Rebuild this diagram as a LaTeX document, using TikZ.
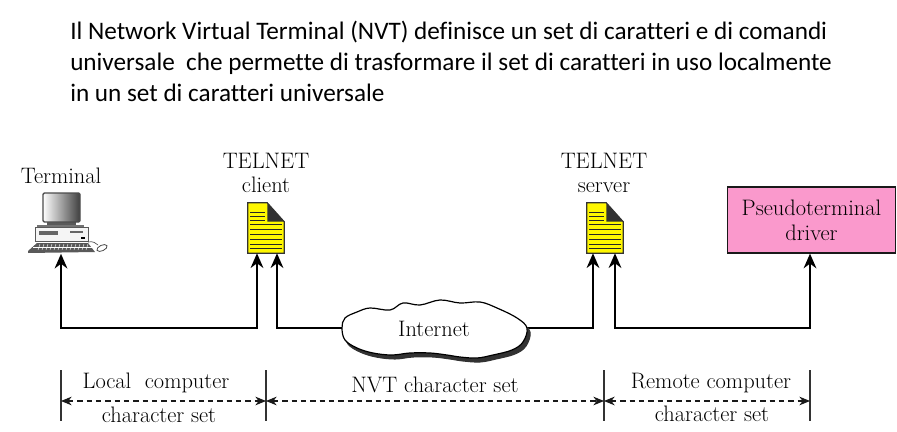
\documentclass[tikz,border=0pt]{standalone}
\usepackage{fontspec}
\usepackage{tikz}
\usetikzlibrary{arrows.meta, calc, positioning}
\newfontfamily\headfont[Ligatures=NoCommon]{Carlito}
\definecolor{docYellow}{RGB}{255,247,0}
\definecolor{driverPink}{RGB}{250,153,204}
\definecolor{foldGray}{RGB}{50,50,50}
\tikzset{%
>={Stealth[width=9.5pt,length=11pt,inset=3.5pt]},
% Specifications for style of nodes:
base/.style = {inner sep=0, font=\fontsize{16.8}{18.5}\selectfont, text=black, align=center},
heading/.style = {inner sep=0, anchor=west, font=\headfont\fontsize{18.9}{23.3}\selectfont, align=left},
driver/.style = {base, draw=black!90, line width=1.4pt, fill=driverPink, minimum width=126pt, minimum height=49pt},
doc/.style = {inner sep=0, minimum width=27pt, minimum height=37.5pt},
device/.style = {inner sep=0, minimum width=67.5pt, minimum height=47.25pt},
link/.style = {line width=1.8pt, black},
charspan/.style = {dash pattern=on 4pt off 3pt, line width=0.8pt, black!90, <->, >={Stealth[width=6.5pt,length=8pt,inset=2.5pt]}},
bound/.style = {line width=1pt, black!80},
}
% a sheet with a folded corner, drawn on top of the node of that name
\newcommand{\sheet}[1]{%
  \fill[docYellow, draw=black!80, line width=0.8pt] (#1.south west) -- (#1.north west) -- ($(#1.north east)+(-17,0)$) -- ($(#1.north east)+(0,19)$) -- (#1.south east) -- cycle;
  \fill[foldGray] ($(#1.north east)+(-17,0)$) -- ($(#1.north east)+(0,19)$) -- ($(#1.north east)+(-17,19)$) -- cycle;
  \foreach \y/\l in {10/15, 14/15, 18/15, 22/32, 27/32, 32/32, 37/32, 42/32, 46/32} {
    \draw[black!85, line width=0.4pt] ($(#1.north west)+(2.5,\y)$) -- ++(\l,0);
  }
}
\begin{document}
\begin{tikzpicture}[x=0.75pt, y=-0.75pt]
    \useasboundingbox (0,0) rectangle (897,432);
    % Heading
    \node (heading) [heading] at (70,61.5) {Il Network Virtual Terminal (NVT) definisce un set di caratteri e di comandi\\
        universale\ \ che permette di trasformare il set di caratteri in uso localmente\\
        in un set di caratteri universale};

    % Specification of nodes (position, etc.)
    \node (terminal) [device] at (61,222) {};
    \node (terminalLabel) [base] at (61,176) {Terminal};
    \node (clientDoc) [doc] at (266,228) {};
    \node (clientLabel) [base] at (266,173) {TELNET\\client};
    \node (serverDoc) [doc] at (605,228) {};
    \node (serverLabel) [base] at (604,173) {TELNET\\server};
    \node (driver) [driver] at (811.5,220) {Pseudoterminal\\driver};

    % Terminal icon
    \fill[black!65] (47,222) rectangle (76,226);
    \fill[black!55] (37,225) rectangle (84,228);
    \shade[left color=white, right color=black!75, draw=black!70, line width=1pt, rounded corners=1pt] (43,193) rectangle (80,222);
    \draw[black!65, fill=black!4, line width=0.7pt] (35,227) rectangle (88,241);
    \fill[black!60] (39,231) rectangle (58,235);
    \fill[black!60] (70,231) rectangle (83,233);
    \fill[black] (81,237) rectangle (85,239);
    \fill[black!65] (37,243) -- (88,243) -- (95,252) -- (28,253) -- (28,251) -- cycle;
    \foreach \x in {40,44,...,88} {
        \draw[white, line width=0.3pt] (\x,244) -- (\x-2,250);
    }
    \draw[white, line width=0.3pt] (33,247) -- (92,247);
    \draw[black!70, line width=0.5pt] (88,242) .. controls (93,241) and (96,243) .. (98,245);
    \draw[black!70, fill=white, line width=0.6pt, rotate around={25:(102,248)}] (102,248) ellipse (5.5 and 2.8);

    % Sheets
    \sheet{clientDoc}
    \sheet{serverDoc}

    % Connectors
    \draw [<->, link] (terminal.south) -- ++(0,74.5) -| ($(clientDoc.south)+(-9,0)$);
    \coordinate (cloudLeft) at (342,328);
    \coordinate (cloudRight) at (527,328);
    \draw [<-, link] ($(clientDoc.south)+(11,0)$) |- (cloudLeft);
    \draw [<-, link] ($(serverDoc.south)+(-12,0)$) |- (cloudRight);
    \draw [<->, link] ($(serverDoc.south)+(10,0)$) -- ++(0,75) -| ($(driver.south)+(-1.5,0)$);

    % Cloud, its shadow first
    \draw[foldGray, fill=foldGray, line width=0.8pt, shift={(3,4)}]
        plot[smooth cycle, tension=0.6] coordinates {(342,328) (345,318) (357,312) (370,308) (390,310) (403,303) (420,305) (440,300) (460,303) (480,302) (497,308) (517,318) (527,328) (523,342) (512,350) (493,355) (477,358) (460,357) (447,355) (430,353) (410,353) (392,355) (373,353) (357,348) (345,340)};
    \draw[black, fill=white, line width=0.9pt]
        plot[smooth cycle, tension=0.6] coordinates {(342,328) (345,318) (357,312) (370,308) (390,310) (403,303) (420,305) (440,300) (460,303) (480,302) (497,308) (517,318) (527,328) (523,342) (512,350) (493,355) (477,358) (460,357) (447,355) (430,353) (410,353) (392,355) (373,353) (357,348) (345,340)};
    \node (internet) [base] at (434,329) {Internet};

    % Character set ranges
    \coordinate (localEnd) at (61,370);
    \coordinate (clientEnd) at (266,370);
    \coordinate (serverEnd) at (604,370);
    \coordinate (remoteEnd) at (810,370);
    \foreach \e in {localEnd, clientEnd, serverEnd, remoteEnd} {
        \draw [bound] (\e) -- ++(0,51);
    }
    \draw [charspan] ($(localEnd)+(0,31)$) -- ($(clientEnd)+(0,31)$);
    \draw [charspan] ($(clientEnd)+(0,31)$) -- ($(serverEnd)+(0,31)$);
    \draw [charspan] ($(serverEnd)+(0,31)$) -- ($(remoteEnd)+(0,31)$);
    \node (localTop) [base] at (156,383) {Local\ \ computer};
    \node (localBottom) [base] at (159,415) {character set};
    \node (nvtLabel) [base] at (435,385) {NVT character set};
    \node (remoteTop) [base] at (711,383) {Remote computer};
    \node (remoteBottom) [base] at (712,414) {character set};
\end{tikzpicture}
\end{document}
